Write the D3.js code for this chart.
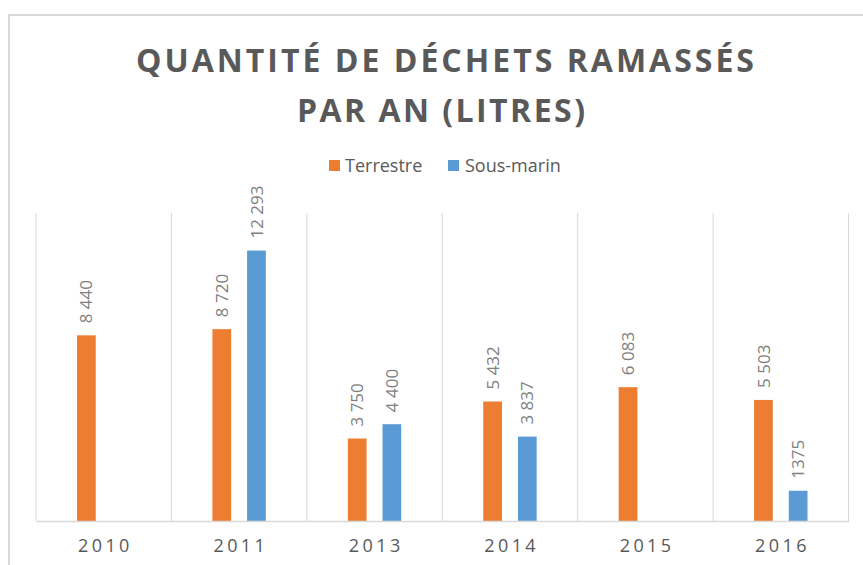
<!DOCTYPE html>
<html><head><meta charset="utf-8">
<script src="https://cdn.jsdelivr.net/npm/d3@7"></script>
<style>body{margin:0;background:#fff}svg{display:block}</style>
</head><body>
<svg id="c" width="863" height="565"></svg>
<script>
const categories = ["2010","2011","2013","2014","2015","2016"];
const terrestre = [8440, 8720, 3750, 5432, 6083, 5503];
const sousMarin = [null, 12293, 4400, 3837, null, 1375];
const seriesNames = ["Terrestre","Sous-marin"];
const colors = ["#ED7D31","#5B9BD5"];
const titleLines = ["QUANTITÉ DE DÉCHETS RAMASSÉS","PAR AN (LITRES)"];
const yMax = 14000;

const svg = d3.select("#c");
const font = "'Open Sans', sans-serif";

// chart frame
svg.append("rect").attr("x",9).attr("y",15).attr("width",870).attr("height",570)
  .attr("fill","none").attr("stroke","#d9d9d9").attr("stroke-width",2);

const plot = {left:36, right:848.5, top:213, bottom:521};
const x = d3.scaleBand().domain(categories).range([plot.left, plot.right]).paddingInner(0).paddingOuter(0);
const x1 = d3.scaleBand().domain(seriesNames).range([41, x.bandwidth()-41]).paddingInner(0.46);
const y = d3.scaleLinear().domain([0,yMax]).range([plot.bottom, plot.top]);

// vertical gridlines at category boundaries
const bounds = categories.map(c => x(c)).concat([x(categories[categories.length-1]) + x.bandwidth()]);
svg.append("g").selectAll("line").data(bounds).join("line")
  .attr("x1",d=>d).attr("x2",d=>d).attr("y1",plot.top).attr("y2",plot.bottom)
  .attr("stroke","#d9d9d9").attr("stroke-width",1);

// bars
const data = [];
categories.forEach((c,i)=>{
  [terrestre[i], sousMarin[i]].forEach((v,j)=>{
    if(v!=null) data.push({c, s:seriesNames[j], v, color:colors[j]});
  });
});
svg.append("g").selectAll("rect").data(data).join("rect")
  .attr("x",d=>x(d.c)+x1(d.s)).attr("width",x1.bandwidth())
  .attr("y",d=>y(d.v)).attr("height",d=>y(0)-y(d.v))
  .attr("fill",d=>d.color);

// x axis
const xAxis = d3.axisBottom(x).tickSize(0).tickPadding(0);
const ga = svg.append("g").attr("transform",`translate(0,${plot.bottom})`).call(xAxis);
ga.select(".domain").attr("stroke","#d9d9d9").attr("stroke-width",1.5);
ga.selectAll(".tick text").attr("font-family",font).attr("font-size",18)
  .attr("fill","#595959").attr("letter-spacing","3.4px")
  .attr("dy",null).attr("y",31).attr("dx","1.7px");

// value labels
const fmt = v => v >= 10000 || (v>=2000) ? d3.format(",")(v).replace(/,/g," ") : String(v);
const lfs = 17;
svg.append("g").selectAll("text").data(data).join("text")
  .attr("transform",d=>{
    const cx = x(d.c)+x1(d.s)+x1.bandwidth()/2 + lfs*0.357;
    const cy = y(d.v) - 12;
    return `translate(${cx},${cy}) rotate(-90)`;
  })
  .attr("font-family",font).attr("font-size",lfs).attr("fill","#7f7f7f")
  .text(d=>fmt(d.v));

// title
const title = svg.append("g");
const tTargets = [{w:618, cx:445, by:72},{w:288, cx:441, by:122}];
titleLines.forEach((t,i)=>{
  const el = title.append("text").attr("font-family",font).attr("font-weight",700)
    .attr("font-size",32).attr("fill","#595959").attr("text-anchor","middle")
    .attr("x",tTargets[i].cx).attr("y",tTargets[i].by).text(t);
  const nat = el.node().getComputedTextLength();
  const ls = (tTargets[i].w - nat)/(t.length-1);
  el.attr("letter-spacing", ls+"px").attr("dx", (ls/2)+"px");
});

// legend
const leg = svg.append("g");
const legItems = [{x:329, tx:345}, {x:448, tx:465}];
seriesNames.forEach((n,i)=>{
  leg.append("rect").attr("x",legItems[i].x).attr("y",160).attr("width",11).attr("height",11).attr("fill",colors[i]);
  leg.append("text").attr("x",legItems[i].tx).attr("y",172).attr("font-family",font)
    .attr("font-size",18).attr("fill","#595959").text(n);
});
</script>
</body></html>
